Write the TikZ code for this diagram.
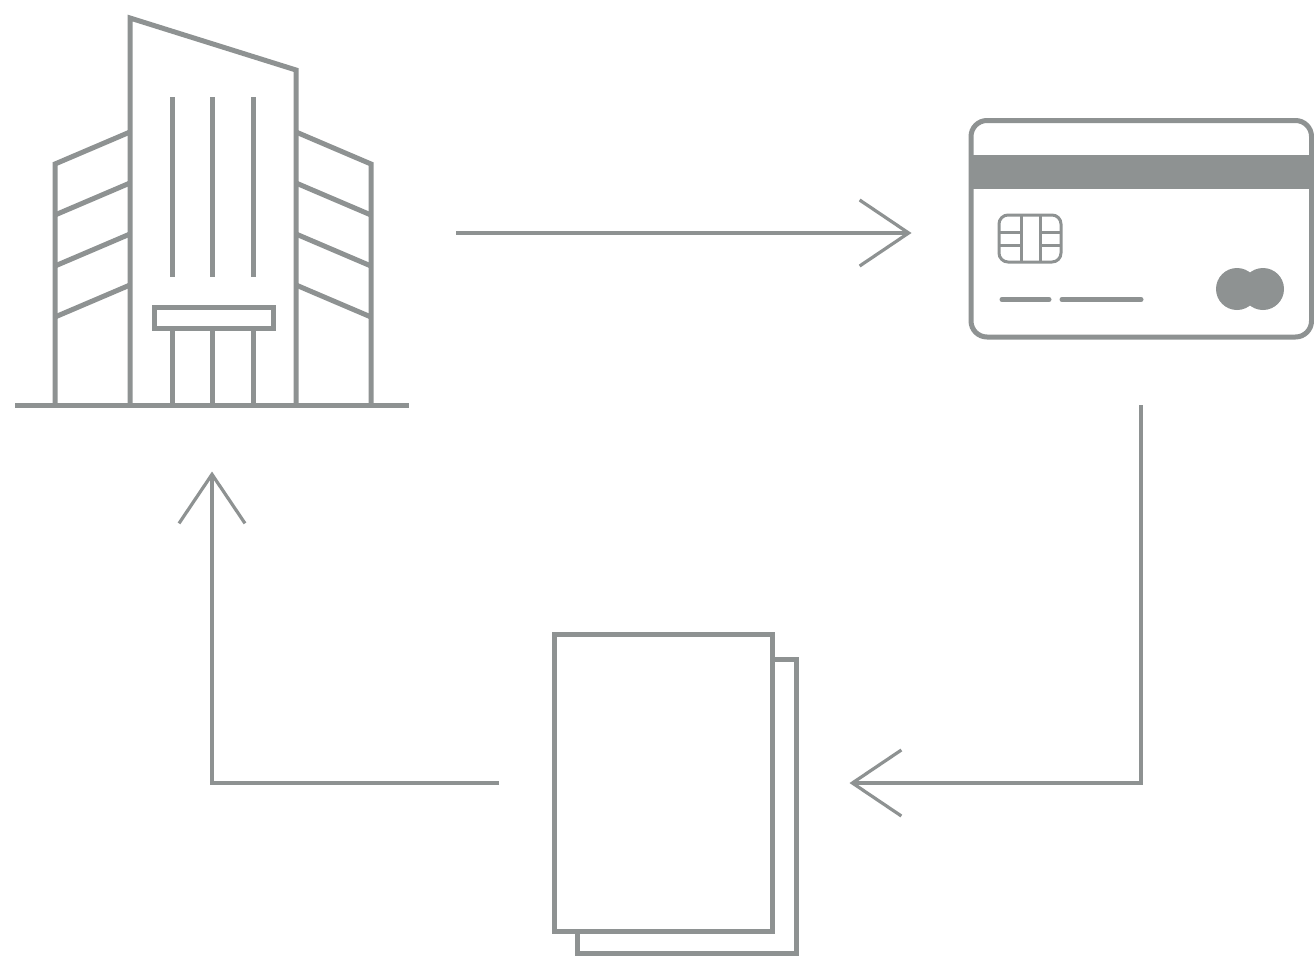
\documentclass[tikz,border=0pt]{standalone}
\usetikzlibrary{arrows.meta}
\definecolor{icongray}{HTML}{8E9292}
\tikzset{
  x=1pt,y=-1pt,
  icon/.style={draw=icongray,line width=5pt,line join=miter,fill=none},
  thinicon/.style={draw=icongray,line width=3pt},
  flow/.style={draw=icongray,line width=3.2pt,shorten >=-3.5pt,-{Straight Barb[length=49pt,width=66pt,line width=3.2pt]}},
  anchorbox/.style={inner sep=0pt,outer sep=0pt,draw=none,fill=none},
}
\begin{document}
\begin{tikzpicture}
\useasboundingbox (0,0) rectangle (1314,956);
\fill[white] (0,0) rectangle (1314,956);
% invisible boxes whose anchors are the connector ends
\node[anchorbox,minimum width=488pt,minimum height=484pt] (building) at (212,233) {};
\node[anchorbox,minimum width=466pt,minimum height=344pt] (card) at (1141,233) {};
\node[anchorbox,minimum width=354pt,minimum height=320pt] (docs) at (676,783) {};
% building
\draw[icon] (15,405) -- (409,405);
\draw[icon] (130,405) -- (130,18) -- (296,70) -- (296,405);
\draw[icon] (130,132) -- (55,164) -- (55,405);
\draw[icon] (296,132) -- (371,164) -- (371,405);
\foreach \yy in {183,234,285}{
  \draw[icon] (130,\yy) -- (55,\yy+32);
  \draw[icon] (296,\yy) -- (371,\yy+32);
}
\foreach \xx in {172,212.5,253}{
  \draw[icon] (\xx,97) -- (\xx,277);
  \draw[icon] (\xx,328) -- (\xx,405);
}
\draw[icon] (154,307) rectangle (273,328);
% card
\fill[icongray] (971,155) rectangle (1311.5,189);
\draw[icon,rounded corners=16pt] (971,120.5) rectangle (1311.5,337);
\draw[thinicon,rounded corners=9pt] (999,215) rectangle (1061,262);
\draw[thinicon] (1021,215) -- (1021,262);
\draw[thinicon] (1040,215) -- (1040,262);
\foreach \yy in {232,245}{
  \draw[thinicon] (999,\yy) -- (1021,\yy);
  \draw[thinicon] (1040,\yy) -- (1061,\yy);
}
\draw[icon,line cap=round] (1002,299.5) -- (1049,299.5);
\draw[icon,line cap=round] (1062,299.5) -- (1141,299.5);
\fill[icongray] (1237,289) circle[radius=21pt];
\fill[icongray] (1263,289) circle[radius=21pt];
% documents
\draw[icon] (772,659) -- (796,659) -- (796,953) -- (577,953) -- (577,931);
\draw[icon] (554,634) rectangle (772,931);
% connectors
\draw[flow] (building.east) -- (card.west);
\draw[flow] (card.south) |- (docs.east);
\draw[flow] (docs.west) -| (building.south);
\end{tikzpicture}
\end{document}
